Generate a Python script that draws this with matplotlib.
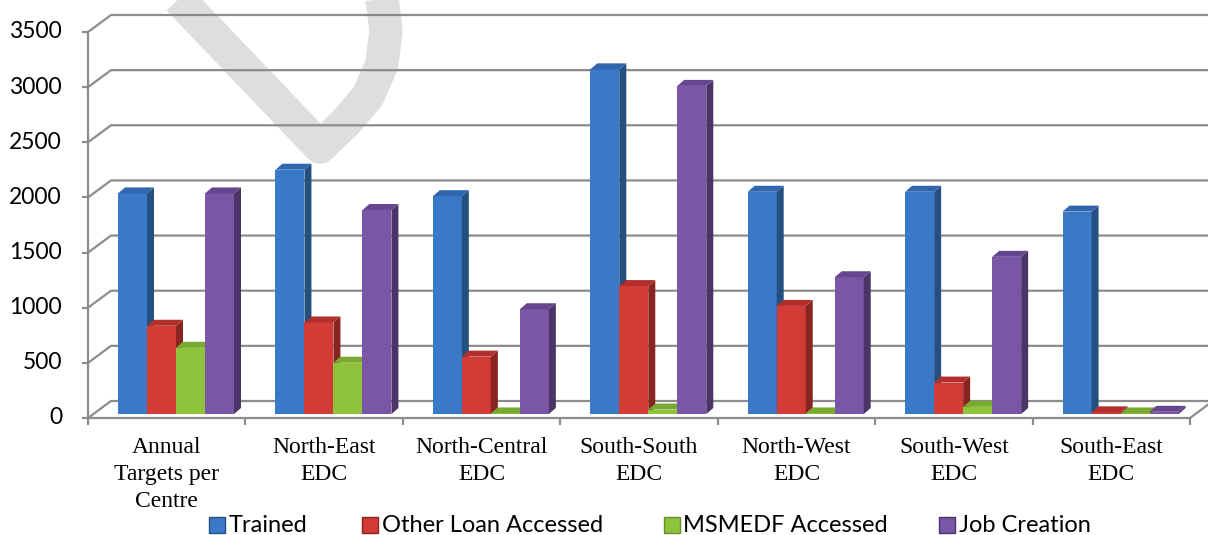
import numpy as np
import matplotlib.pyplot as plt
from matplotlib.patches import Rectangle, Polygon
from matplotlib.lines import Line2D

# ── data ──────────────────────────────────────────────────────────────────────
categories = ['Annual\nTargets per\nCentre', 'North-East\nEDC', 'North-Central\nEDC',
              'South-South\nEDC', 'North-West\nEDC', 'South-West\nEDC', 'South-East\nEDC']
series_names = ['Trained', 'Other Loan Accessed', 'MSMEDF Accessed', 'Job Creation']
trained      = [2000, 2215, 1975, 3125, 2015, 2015, 1835]
other_loan   = [800, 830, 520, 1160, 980, 285, 15]
msmedf       = [600, 465, 5, 40, 5, 65, 5]
job_creation = [2000, 1850, 950, 2975, 1240, 1425, 20]
y_ticks = [0, 500, 1000, 1500, 2000, 2500, 3000, 3500]

series = [trained, other_loan, msmedf, job_creation]
front_col = ['#3a78c8', '#d23b36', '#8ec33b', '#7a56a6']
side_col  = ['#24507f', '#8a2421', '#678f27', '#4b3468']
top_col   = ['#2f66ad', '#b32f2b', '#79aa30', '#66478f']

W, H = 1208, 535
fig = plt.figure(figsize=(W / 100, H / 100), dpi=100)
fig.patch.set_facecolor('white')

# front plane of the plot: x 88..1190 px, value 0 at y=418, 3500 at y=32
ax = fig.add_axes([88 / W, (H - 418) / H, 1102 / W, 386 / H])
ax.set_xlim(0, 7)
ax.set_ylim(0, 3500)
ax.axis('off')

PX_X = 1102 / 7
PX_Y = 386 / 3500
def dx(p): return p / PX_X
def dy(p): return p / PX_Y

grid_kw = dict(color='#8c8c8c', lw=1.6, clip_on=False, zorder=1, solid_capstyle='butt')

# watermark stroke (behind grid)
wm_x = [170, 320, 346, 368, 382, 386, 381]
wm_y = [-10, 147, 122, 96, 64, 30, -10]
fig.add_artist(Line2D([x / W for x in wm_x], [1 - y / H for y in wm_y],
                      transform=fig.transFigure, color='#dedede', lw=24,
                      solid_joinstyle='round', solid_capstyle='butt', zorder=0))

# perspective gridlines on the back wall
bx, by = dx(23), dy(17)
for v in y_ticks:
    ax.plot([0, bx, 7.3], [v, v + by, v + by], **grid_kw)
    ax.plot([-dx(6), 0], [v, v], **grid_kw)
    ax.text(-dx(26), v, str(v), ha='right', va='center', fontsize=16.5,
            family='Lato', color='black')
ax.plot([0, 0], [0, 3500], **grid_kw)
ax.plot([0, 7, 7 + bx], [0, 0, by], **grid_kw)
for i in range(8):
    ax.plot([i, i], [0, -dy(7)], **grid_kw)

for i, lab in enumerate(categories):
    ax.text(i + 0.5, -dy(19), lab, ha='center', va='top', fontsize=17,
            family='Liberation Serif', linespacing=1.36)

# 3D-looking bars
bw = dx(29)
left0 = dx(30)
base = dy(4)
ddx, ddy = dx(7), dy(6)
for i in range(len(categories)):
    for k, vals in enumerate(series):
        x0 = i + left0 + k * bw
        y1 = base + vals[i]
        z = 3 + k
        ax.add_patch(Rectangle((x0, base), bw, vals[i], facecolor=front_col[k],
                               edgecolor='none', zorder=z, clip_on=False))
        ax.add_patch(Polygon([(x0 + bw, base), (x0 + bw + ddx, base + ddy),
                              (x0 + bw + ddx, y1 + ddy), (x0 + bw, y1)],
                             closed=True, facecolor=side_col[k], edgecolor='none',
                             zorder=z, clip_on=False))
        ax.add_patch(Polygon([(x0, y1), (x0 + bw, y1), (x0 + bw + ddx, y1 + ddy),
                              (x0 + ddx, y1 + ddy)],
                             closed=True, facecolor=top_col[k], edgecolor='none',
                             zorder=z, clip_on=False))

# legend, placed by hand
leg_marker_x = [209, 362, 664, 939]
leg_text_x = [229, 382, 683, 959]
leg_y = 525
for k, name in enumerate(series_names):
    fig.add_artist(Rectangle((leg_marker_x[k] / W, 1 - (leg_y + 8) / H), 16 / W, 16 / H,
                             transform=fig.transFigure, facecolor=front_col[k],
                             edgecolor=side_col[k], lw=1))
    fig.text(leg_text_x[k] / W, 1 - leg_y / H, name, ha='left', va='center',
             fontsize=17, family='Lato')

fig.savefig('out.png', dpi=100)
